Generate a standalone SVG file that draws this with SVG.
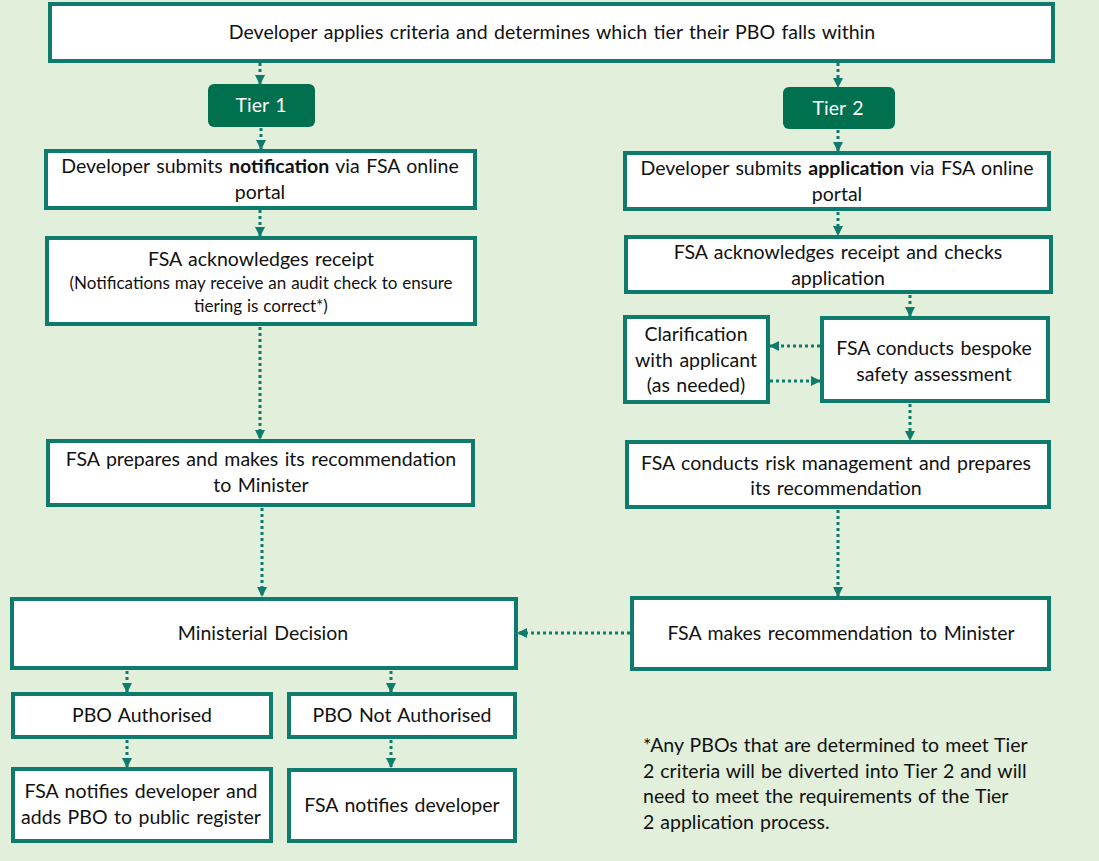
<svg xmlns="http://www.w3.org/2000/svg" width="1099" height="861" viewBox="0 0 1099 861">
<style>
.bg{fill:#E2EFDA}
.box{fill:#FFFFFF;stroke:#0E7B6C;stroke-width:4}
.tier{fill:#00704F}
.t{font-family:Lato,"Open Sans","Liberation Sans",sans-serif;font-size:19.5px;fill:#111111;text-anchor:middle;word-spacing:1.5px}
.s{font-size:17px;word-spacing:0.5px}
.w{fill:#FFFFFF}
.b{font-weight:bold}
.fn{font-family:Lato,"Open Sans","Liberation Sans",sans-serif;font-size:19.5px;fill:#111111;word-spacing:1px}
.c{fill:none;stroke:#0E7B6C;stroke-width:3;stroke-dasharray:3 3;marker-end:url(#ah)}
</style>
<defs>
<marker id="ah" viewBox="0 0 10 10" refX="9" refY="5" markerWidth="10" markerHeight="10" markerUnits="userSpaceOnUse" orient="auto">
<path d="M0,0 L10,5 L0,10 z" fill="#0E7B6C"/>
</marker>
</defs>
<rect class="bg" x="0" y="0" width="1099" height="861"/>

<g id="connectors">
<line class="c" x1="260" y1="63" x2="260" y2="84"/>
<line class="c" x1="838" y1="63" x2="838" y2="87"/>
<line class="c" x1="261" y1="128" x2="261" y2="149"/>
<line class="c" x1="838" y1="130" x2="838" y2="151"/>
<line class="c" x1="260" y1="210" x2="260" y2="236"/>
<line class="c" x1="838" y1="212" x2="838" y2="235"/>
<line class="c" x1="260" y1="327" x2="260" y2="439"/>
<line class="c" x1="262" y1="508" x2="262" y2="596"/>
<line class="c" x1="910" y1="295" x2="910" y2="316"/>
<line class="c" x1="820" y1="346" x2="770" y2="346"/>
<line class="c" x1="770" y1="381" x2="820" y2="381"/>
<line class="c" x1="910" y1="404" x2="910" y2="440"/>
<line class="c" x1="838" y1="510" x2="838" y2="596"/>
<line class="c" x1="630" y1="633" x2="518" y2="633"/>
<line class="c" x1="127" y1="671" x2="127" y2="692"/>
<line class="c" x1="391" y1="671" x2="391" y2="692"/>
<line class="c" x1="127" y1="740" x2="127" y2="767"/>
<line class="c" x1="391" y1="740" x2="391" y2="767"/>
</g>

<g id="top">
<rect class="box" x="50" y="4" width="1003" height="57"/>
<text class="t" x="552" y="39">Developer applies criteria and determines which tier their PBO falls within</text>
</g>

<g id="tier1">
<rect class="tier" x="208" y="84" width="107" height="43" rx="6"/>
<text class="t w" x="261" y="112">Tier 1</text>
</g>
<g id="tier2">
<rect class="tier" x="783" y="87" width="112" height="42" rx="6"/>
<text class="t w" x="838" y="115">Tier 2</text>
</g>

<g id="t1-submit">
<rect class="box" x="46" y="151" width="429" height="57"/>
<text class="t" x="260" y="173">Developer submits <tspan class="b">notification</tspan> via FSA online</text>
<text class="t" x="260" y="199">portal</text>
</g>
<g id="t1-ack">
<rect class="box" x="47" y="238" width="428" height="86"/>
<text class="t" x="261" y="266">FSA acknowledges receipt</text>
<text class="t s" x="261" y="289">(Notifications may receive an audit check to ensure</text>
<text class="t s" x="261" y="312">tiering is correct*)</text>
</g>
<g id="t1-prepare">
<rect class="box" x="48" y="441" width="425" height="64"/>
<text class="t" x="261" y="466">FSA prepares and makes its recommendation</text>
<text class="t" x="261" y="492">to Minister</text>
</g>

<g id="t2-submit">
<rect class="box" x="625" y="153" width="424" height="56"/>
<text class="t" x="837" y="175">Developer submits <tspan class="b">application</tspan> via FSA online</text>
<text class="t" x="837" y="201">portal</text>
</g>
<g id="t2-ack">
<rect class="box" x="626" y="237" width="425" height="55"/>
<text class="t" x="838" y="259">FSA acknowledges receipt and checks</text>
<text class="t" x="838" y="285">application</text>
</g>
<g id="clarification">
<rect class="box" x="625" y="317" width="143" height="85"/>
<text class="t" x="696" y="341">Clarification</text>
<text class="t" x="696" y="367">with applicant</text>
<text class="t" x="696" y="392">(as needed)</text>
</g>
<g id="bespoke">
<rect class="box" x="822" y="318" width="226" height="83"/>
<text class="t" x="934" y="355">FSA conducts bespoke</text>
<text class="t" x="934" y="381">safety assessment</text>
</g>
<g id="risk">
<rect class="box" x="627" y="442" width="422" height="65"/>
<text class="t" x="836" y="470">FSA conducts risk management and prepares</text>
<text class="t" x="836" y="495">its recommendation</text>
</g>
<g id="recommend">
<rect class="box" x="632" y="598" width="417" height="71"/>
<text class="t" x="841" y="640">FSA makes recommendation to Minister</text>
</g>

<g id="ministerial">
<rect class="box" x="12" y="599" width="504" height="69"/>
<text class="t" x="263" y="640">Ministerial Decision</text>
</g>
<g id="authorised">
<rect class="box" x="13" y="694" width="258" height="43"/>
<text class="t" x="142" y="722">PBO Authorised</text>
</g>
<g id="not-authorised">
<rect class="box" x="289" y="694" width="226" height="43"/>
<text class="t" x="402" y="722">PBO Not Authorised</text>
</g>
<g id="notify-register">
<rect class="box" x="13" y="769" width="258" height="72"/>
<text class="t" x="141" y="798">FSA notifies developer and</text>
<text class="t" x="141" y="824">adds PBO to public register</text>
</g>
<g id="notify">
<rect class="box" x="289" y="770" width="226" height="71"/>
<text class="t" x="402" y="812">FSA notifies developer</text>
</g>

<g id="footnote">
<text class="fn" x="643" y="752">*Any PBOs that are determined to meet Tier</text>
<text class="fn" x="643" y="778">2 criteria will be diverted into Tier 2 and will</text>
<text class="fn" x="643" y="803">need to meet the requirements of the Tier</text>
<text class="fn" x="643" y="829">2 application process.</text>
</g>
</svg>
